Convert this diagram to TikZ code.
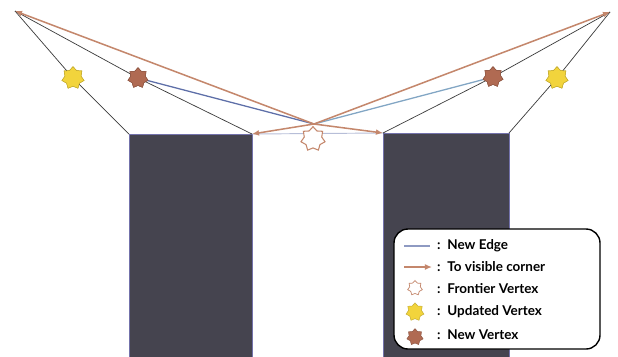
\documentclass[tikz,border=0pt]{standalone}
\usepackage{fontspec}
\newfontfamily\legendfont{Lato}
\usetikzlibrary{arrows.meta,shapes.geometric}

\definecolor{blockgray}{HTML}{45444F}
\definecolor{arrowbrown}{HTML}{C4876C}
\definecolor{starbrown}{HTML}{B06A52}
\definecolor{staryellow}{HTML}{F2D43C}
\definecolor{edgeblue}{HTML}{5E6FA8}
\definecolor{edgelight}{HTML}{82A6C4}
\definecolor{lineblack}{HTML}{3A3A3A}

\begin{document}
\begin{tikzpicture}[x=0.03cm,y=-0.03cm,>={Latex[length=6pt,width=5pt]},
    sight/.style={draw=lineblack,line width=0.6pt},
    corner arrow/.style={->,draw=arrowbrown,line width=1.3pt},
    new edge/.style={draw=edgeblue,line width=1.1pt},
    vertex/.style={star,star points=7,star point ratio=1.38,inner sep=0pt,minimum size=0.62cm},
    new vertex/.style={vertex,fill=starbrown,draw=starbrown!80!black,thin},
    updated vertex/.style={vertex,fill=staryellow,draw=staryellow!80!black,thin,minimum size=0.68cm},
    frontier vertex/.style={vertex,fill=white,draw=arrowbrown,line width=0.9pt,minimum size=0.74cm},
    block/.style={fill=blockgray,draw=blockgray!60!white!80!blue,line width=0.6pt},
    legend text/.style={anchor=west,inner sep=0pt,font=\legendfont\bfseries\fontsize{11.5}{13}\selectfont}]
\useasboundingbox (0,0) rectangle (618,356);

% obstacles
\path[block] (129,134) rectangle (252,358);
\path[block] (383,133) rectangle (509,358);
\coordinate (l_out) at (129,134);
\coordinate (l_in) at (252,134);
\coordinate (r_in) at (383,133);
\coordinate (r_out) at (509,133);

% far corners and frontier point
\coordinate (tl) at (15,11);
\coordinate (tr) at (610,12);
\coordinate (fp) at (314,124);

% vertices
\node[updated vertex] (upd_l) at (73,78) {};
\node[new vertex] (new_l) at (138,78) {};
\node[new vertex] (new_r) at (493,77) {};
\node[updated vertex] (upd_r) at (557,78) {};

% lines of sight
\draw[sight] (tl) -- (upd_l.center) -- (l_out);
\draw[sight] (tl) -- (new_l.center) -- (l_in);
\draw[sight] (tr) -- (new_r.center) -- (r_in);
\draw[sight] (tr) -- (upd_r.center) -- (r_out);

% new edges
\draw[new edge] (new_l.center) -- (fp);
\draw[new edge,edgelight] (new_r.center) -- (fp);
\draw[new edge,edgeblue!45,line width=0.8pt] (l_in) -- (r_in);

% to visible corners
\draw[corner arrow] (fp) -- (tl);
\draw[corner arrow] (fp) -- (tr);
\draw[corner arrow] (fp) -- (l_in);
\draw[corner arrow] (fp) -- (r_in);

% stars on top
\node[updated vertex] at (upd_l) {};
\node[new vertex] at (new_l) {};
\node[new vertex] at (new_r) {};
\node[updated vertex] at (upd_r) {};
\node[frontier vertex] (front) at (313,139) {};

% legend
\draw[fill=white,line width=1.2pt,rounded corners=0.42cm] (394,229) rectangle (600,349);
\coordinate (lg_a) at (404,246);
\coordinate (lg_b) at (430,246);
\draw[new edge,edgeblue!70] (lg_a) -- (lg_b);
\coordinate (lg_c) at (404,267);
\coordinate (lg_d) at (432,267);
\draw[corner arrow] (lg_c) -- (lg_d);
\node[frontier vertex,minimum size=0.45cm,line width=0.6pt] (lg_f) at (415,288) {};
\node[updated vertex,minimum size=0.55cm] (lg_u) at (415,312) {};
\node[new vertex,minimum size=0.5cm] (lg_n) at (415,337) {};
\node[legend text] at (437,246) {:\enspace New Edge};
\node[legend text] at (437,267) {:\enspace To visible corner};
\node[legend text] at (437,289) {:\enspace Frontier Vertex};
\node[legend text] at (437,312) {:\enspace Updated Vertex};
\node[legend text] at (437,335) {:\enspace New Vertex};
\end{tikzpicture}
\end{document}
